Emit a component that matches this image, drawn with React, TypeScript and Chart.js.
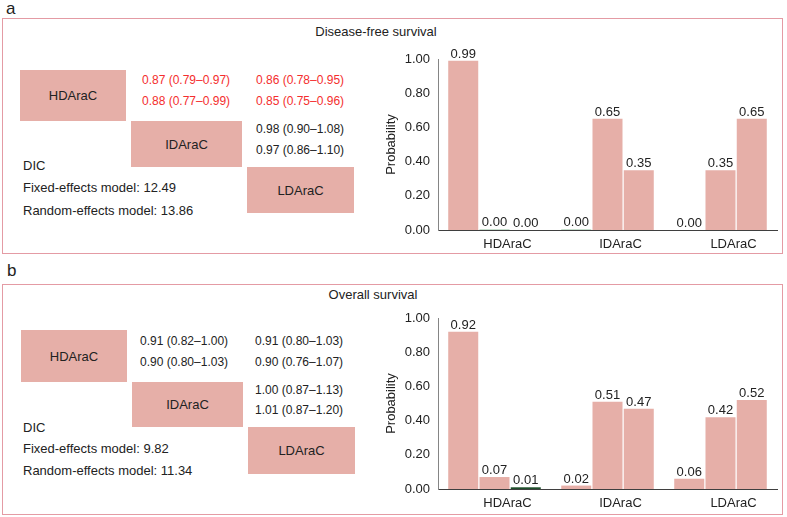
import React, { useEffect, useRef } from "react";
import { Chart, registerables } from "chart.js";

Chart.register(...registerables);

const FONT = "'Liberation Sans', Arial, Helvetica, sans-serif";

// Categories and ticks
const treatments = ["HDAraC", "IDAraC", "LDAraC"];
const yTicks = [0, 0.2, 0.4, 0.6, 0.8, 1.0];

// Panel a: Disease-free survival, probability of each rank per treatment
const dfsRank1 = [0.99, 0.003, 0.0];
const dfsRank2 = [0.003, 0.65, 0.35];
const dfsRank3 = [0.0, 0.35, 0.65];

// Panel b: Overall survival
const osRank1 = [0.92, 0.02, 0.06];
const osRank2 = [0.07, 0.51, 0.42];
const osRank3 = [0.01, 0.47, 0.52];

// League table texts
const dfsHDvsID = ["0.87 (0.79–0.97)", "0.88 (0.77–0.99)"];
const dfsHDvsLD = ["0.86 (0.78–0.95)", "0.85 (0.75–0.96)"];
const dfsIDvsLD = ["0.98 (0.90–1.08)", "0.97 (0.86–1.10)"];
const dfsDIC = ["12.49", "13.86"];

const osHDvsID = ["0.91 (0.82–1.00)", "0.90 (0.80–1.03)"];
const osHDvsLD = ["0.91 (0.80–1.03)", "0.90 (0.76–1.07)"];
const osIDvsLD = ["1.00 (0.87–1.13)", "1.01 (0.87–1.20)"];
const osDIC = ["9.82", "11.34"];

const PINK = "#e6afa8";
const TEXT = "#222222";
const RED = "#f42e2e";
const FRAME = "#e49ba4";

function valueLabelPlugin() {
  return {
    id: "valueLabels",
    afterDatasetsDraw(chart: any) {
      const ctx = chart.ctx;
      ctx.save();
      ctx.font = `13px ${FONT}`;
      ctx.fillStyle = TEXT;
      ctx.textAlign = "center";
      ctx.textBaseline = "alphabetic";
      chart.data.datasets.forEach((ds: any, i: number) => {
        chart.getDatasetMeta(i).data.forEach((el: any, j: number) => {
          const v = ds.data[j] as number;
          ctx.fillText(v.toFixed(2), el.x, el.y - 3);
        });
      });
      ctx.restore();
    },
  };
}

function RankChart(props: { left: number; top: number; ranks: number[][]; tinyColor: string }) {
  const ref = useRef<HTMLCanvasElement | null>(null);
  useEffect(() => {
    if (!ref.current) return;
    const colorFor = (v: number) => (v > 0 && v < 0.015 ? props.tinyColor : PINK);
    const chart = new Chart(ref.current, {
      type: "bar",
      data: {
        labels: treatments,
        datasets: props.ranks.map((r, i) => ({
          label: `Rank ${i + 1}`,
          data: r,
          backgroundColor: r.map(colorFor),
          borderWidth: 0,
          categoryPercentage: 0.83,
          barPercentage: 0.96,
        })),
      },
      options: {
        responsive: false,
        animation: false,
        devicePixelRatio: 1,
        layout: { padding: { top: 19, right: 5, left: 0, bottom: 0 } },
        plugins: {
          legend: { display: false },
          tooltip: { enabled: false },
          title: { display: false },
        },
        scales: {
          x: {
            grid: { display: false, drawTicks: false },
            border: { display: true, color: "#3f3f3f", width: 1 },
            ticks: { font: { family: FONT, size: 13 }, color: TEXT, padding: 7, labelOffset: 13 },
            afterFit: (s: any) => {
              s.height = 35;
            },
          },
          y: {
            min: 0,
            max: 1,
            afterBuildTicks: (s: any) => {
              s.ticks = yTicks.map((v) => ({ value: v }));
            },
            grid: { display: false, drawTicks: false },
            border: { display: true, color: "#858585", width: 1 },
            ticks: {
              font: { family: FONT, size: 13 },
              color: TEXT,
              padding: 8,
              callback: (v: any) => Number(v).toFixed(2),
            },
            title: {
              display: true,
              text: "Probability",
              font: { family: FONT, size: 13 },
              color: TEXT,
              padding: { top: 14, bottom: 0 },
            },
            afterFit: (s: any) => {
              s.width = 68;
            },
          },
        },
      } as any,
      plugins: [valueLabelPlugin()],
    });
    return () => chart.destroy();
  }, []);
  return (
    <canvas
      ref={ref}
      width={412}
      height={225}
      style={{ position: "absolute", left: props.left, top: props.top, width: 412, height: 225 }}
    />
  );
}

function T(props: { x: number; y: number; text: string; size?: number; color?: string; center?: boolean }) {
  return (
    <div
      style={{
        position: "absolute",
        left: props.x,
        top: props.y,
        transform: props.center ? "translate(-50%, -50%)" : "translateY(-50%)",
        fontSize: props.size ?? 12,
        lineHeight: 1,
        color: props.color ?? TEXT,
        whiteSpace: "nowrap",
      }}
    >
      {props.text}
    </div>
  );
}

function Box(props: { x: number; y: number; w: number; h: number; text: string }) {
  return (
    <div
      style={{
        position: "absolute",
        left: props.x,
        top: props.y,
        width: props.w,
        height: props.h,
        background: PINK,
        display: "flex",
        alignItems: "center",
        justifyContent: "center",
        fontSize: 13,
        color: TEXT,
      }}
    >
      {props.text}
    </div>
  );
}

export default function App() {
  return (
    <div
      style={{
        position: "absolute",
        left: 0,
        top: 0,
        width: 787,
        height: 517,
        background: "#ffffff",
        fontFamily: FONT,
        color: TEXT,
        overflow: "hidden",
      }}
    >
      {/* Panel a */}
      <T x={6} y={8} text="a" size={17} />
      <div
        style={{
          position: "absolute",
          left: 2,
          top: 18,
          width: 781,
          height: 236,
          border: `1px solid ${FRAME}`,
          boxSizing: "border-box",
        }}
      />
      <T x={376} y={31} text="Disease-free survival" size={13} center />
      <Box x={20} y={70} w={106} h={51} text={treatments[0]} />
      <Box x={131} y={121} w={111} h={46} text={treatments[1]} />
      <Box x={247} y={167} w={107} h={46} text={treatments[2]} />
      <T x={142} y={80} text={dfsHDvsID[0]} color={RED} />
      <T x={142} y={101} text={dfsHDvsID[1]} color={RED} />
      <T x={256} y={80} text={dfsHDvsLD[0]} color={RED} />
      <T x={256} y={101} text={dfsHDvsLD[1]} color={RED} />
      <T x={256} y={129} text={dfsIDvsLD[0]} />
      <T x={256} y={150} text={dfsIDvsLD[1]} />
      <T x={23} y={165} text="DIC" size={13} />
      <T x={23} y={187} text={`Fixed-effects model: ${dfsDIC[0]}`} size={13} />
      <T x={23} y={210} text={`Random-effects model: ${dfsDIC[1]}`} size={13} />
      <RankChart left={370} top={40} ranks={[dfsRank1, dfsRank2, dfsRank3]} tinyColor="#8fbf9b" />

      {/* Panel b */}
      <T x={7} y={270} text="b" size={17} />
      <div
        style={{
          position: "absolute",
          left: 2,
          top: 284,
          width: 781,
          height: 231,
          border: `1px solid ${FRAME}`,
          boxSizing: "border-box",
        }}
      />
      <T x={373} y={294} text="Overall survival" size={13} center />
      <Box x={21} y={330} w={106} h={52} text={treatments[0]} />
      <Box x={132} y={382} w={111} h={45} text={treatments[1]} />
      <Box x={248} y={427} w={107} h={47} text={treatments[2]} />
      <T x={140} y={341} text={osHDvsID[0]} />
      <T x={140} y={362} text={osHDvsID[1]} />
      <T x={255} y={341} text={osHDvsLD[0]} />
      <T x={255} y={362} text={osHDvsLD[1]} />
      <T x={255} y={390} text={osIDvsLD[0]} />
      <T x={255} y={410} text={osIDvsLD[1]} />
      <T x={23} y={427} text="DIC" size={13} />
      <T x={23} y={448} text={`Fixed-effects model: ${osDIC[0]}`} size={13} />
      <T x={23} y={470} text={`Random-effects model: ${osDIC[1]}`} size={13} />
      <RankChart left={370} top={299} ranks={[osRank1, osRank2, osRank3]} tinyColor="#1f4f2c" />
    </div>
  );
}
